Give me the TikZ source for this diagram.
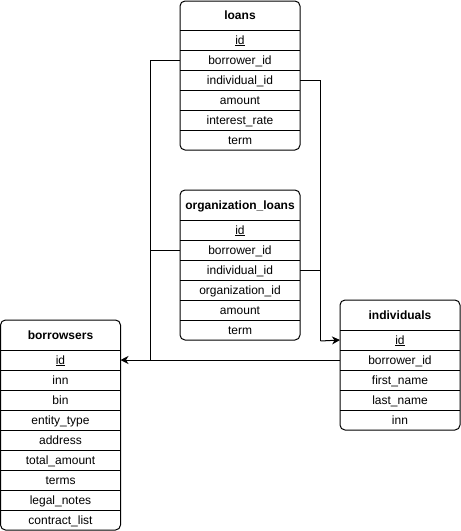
\documentclass[tikz,border=0pt]{standalone}
\usepackage{fontspec}
\setmainfont{Liberation Sans}
\usetikzlibrary{positioning,arrows.meta}

\tikzset{
  tablehead/.style={minimum width=120pt, minimum height=30pt, inner sep=0pt, outer sep=0pt,
    text height=10.8pt, text depth=2.5pt, font=\fontsize{12}{14}\selectfont\bfseries},
  field/.style={minimum width=120pt, minimum height=20pt, inner sep=0pt, outer sep=0pt,
    text height=10.8pt, text depth=2.5pt, font=\fontsize{12}{14}\selectfont},
  tablebox/.style={draw, line width=1pt, rounded corners=5pt},
  rowline/.style={line width=1pt},
  link/.style={line width=1pt},
  fk/.style={line width=1pt, -{Stealth[length=8pt,width=8pt,inset=2.5pt]}}
}

\begin{document}
\begin{tikzpicture}[x=1pt,y=-1pt]
            \useasboundingbox (0,0) rectangle (461,531);

            % loans
            \node[tablehead, minimum height=29pt, alias=loans-0] (loans) at (240,15.5) {loans};
            \foreach \f [count=\i, remember=\i as \p (initially 0)] in
                {\underline{id}, borrower\_id, individual\_id, amount, interest\_rate, term}
                \node[field, below=0pt of loans-\p] (loans-\i) {\f};
            \draw[tablebox] (loans.north west) rectangle (loans-6.south east);
            \foreach \i in {1,...,6} \draw[rowline] (loans-\i.north west) -- (loans-\i.north east);

            % organization_loans
            \node[tablehead, alias=orgloans-0] (orgloans) at (240,205) {organization\_loans};
            \foreach \f [count=\i, remember=\i as \p (initially 0)] in
                {\underline{id}, borrower\_id, individual\_id, organization\_id, amount, term}
                \node[field, below=0pt of orgloans-\p] (orgloans-\i) {\f};
            \draw[tablebox] (orgloans.north west) rectangle (orgloans-6.south east);
            \foreach \i in {1,...,6} \draw[rowline] (orgloans-\i.north west) -- (orgloans-\i.north east);

            % individuals
            \node[tablehead, alias=individuals-0] (individuals) at (400,315) {individuals};
            \foreach \f [count=\i, remember=\i as \p (initially 0)] in
                {\underline{id}, borrower\_id, first\_name, last\_name, inn}
                \node[field, below=0pt of individuals-\p] (individuals-\i) {\f};
            \draw[tablebox] (individuals.north west) rectangle (individuals-5.south east);
            \foreach \i in {1,...,5} \draw[rowline] (individuals-\i.north west) -- (individuals-\i.north east);

            % borrowsers
            \node[tablehead, alias=borrowsers-0] (borrowsers) at (60.5,335) {borrowsers};
            \foreach \f [count=\i, remember=\i as \p (initially 0)] in
                {\underline{id}, inn, bin, entity\_type, address, total\_amount, terms, legal\_notes, contract\_list}
                \node[field, below=0pt of borrowsers-\p] (borrowsers-\i) {\f};
            \draw[tablebox] (borrowsers.north west) rectangle (borrowsers-9.south east);
            \foreach \i in {1,...,9} \draw[rowline] (borrowsers-\i.north west) -- (borrowsers-\i.north east);

            % connectors
            \coordinate (bjoin) at (150.5,361);
            \coordinate (ijoin) at (320.5,341);
            \draw[link] (loans-2.west) -| (bjoin);
            \draw[link] (orgloans-2.west) -| (bjoin);
            \draw[fk] (individuals-2.west) -- (borrowsers-1.east);
            \draw[link] (loans-3.east) -| (ijoin);
            \draw[link] (orgloans-3.east) -| (ijoin);
            \draw[fk] (ijoin) -- (individuals-1.west);

        \end{tikzpicture}
\end{document}
